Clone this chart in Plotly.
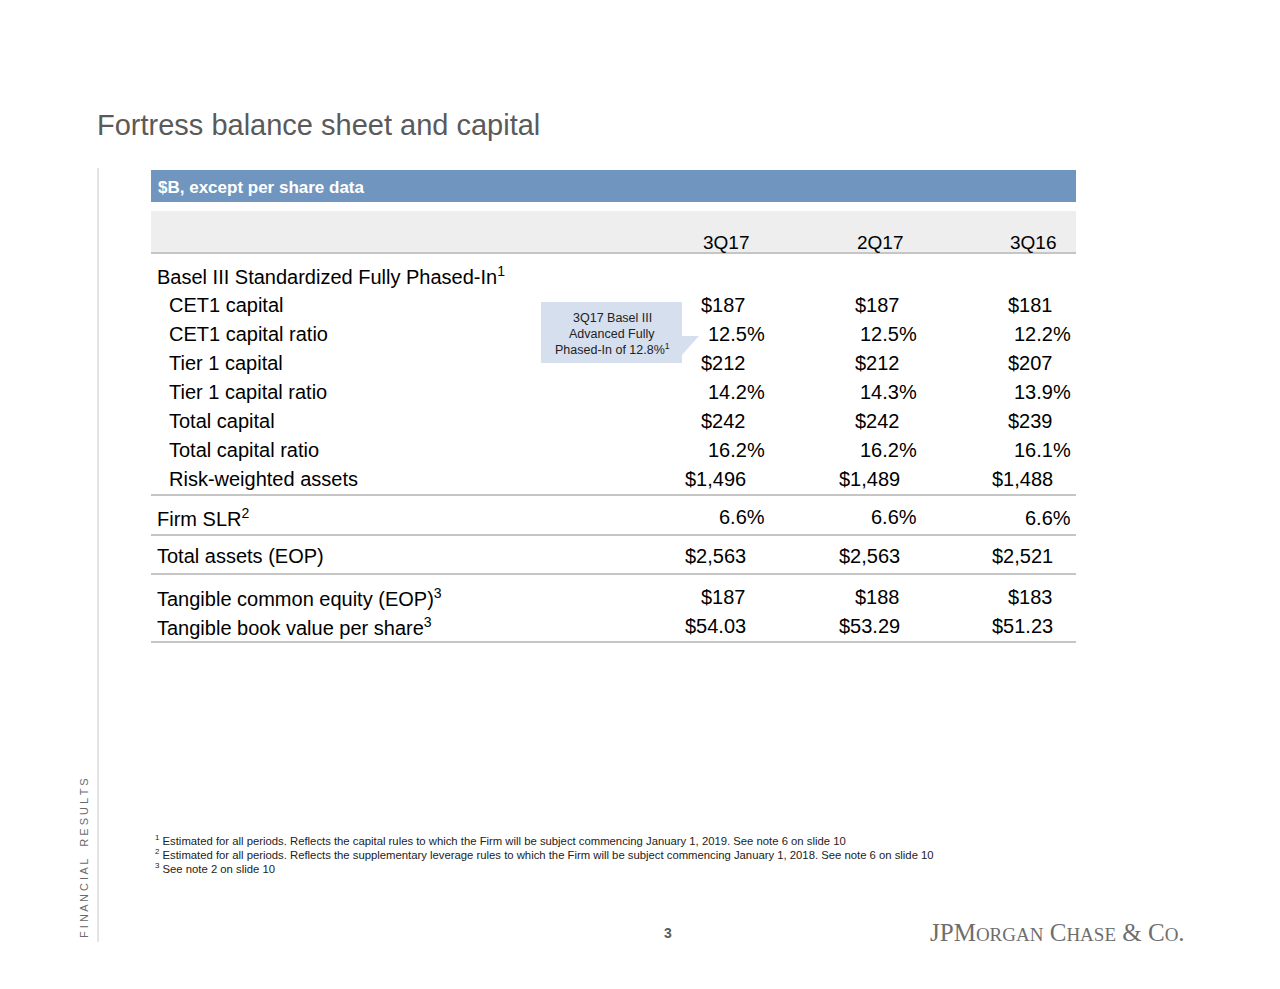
import plotly.graph_objects as go

# ---------------- data ----------------
title = "Fortress balance sheet and capital"
unit_label = "$B, except per share data"
periods = ["3Q17", "2Q17", "3Q16"]
row_labels = [
    "Basel III Standardized Fully Phased-In",
    "CET1 capital",
    "CET1 capital ratio",
    "Tier 1 capital",
    "Tier 1 capital ratio",
    "Total capital",
    "Total capital ratio",
    "Risk-weighted assets",
    "Firm SLR",
    "Total assets (EOP)",
    "Tangible common equity (EOP)",
    "Tangible book value per share",
]
row_notes = ["1", "", "", "", "", "", "", "", "2", "", "3", "3"]
row_indent = [False, True, True, True, True, True, True, True, False, False, False, False]
values_3Q17 = ["", "$187", "12.5%", "$212", "14.2%", "$242", "16.2%", "$1,496", "6.6%", "$2,563", "$187", "$54.03"]
values_2Q17 = ["", "$187", "12.5%", "$212", "14.3%", "$242", "16.2%", "$1,489", "6.6%", "$2,563", "$188", "$53.29"]
values_3Q16 = ["", "$181", "12.2%", "$207", "13.9%", "$239", "16.1%", "$1,488", "6.6%", "$2,521", "$183", "$51.23"]
callout_lines = ["3Q17 Basel III", "Advanced Fully", "Phased-In of 12.8%<sup>1</sup>"]
footnotes = [
    ("1", "Estimated for all periods. Reflects the capital rules to which the Firm will be subject commencing January 1, 2019. See note 6 on slide 10"),
    ("2", "Estimated for all periods. Reflects the supplementary leverage rules to which the Firm will be subject commencing January 1, 2018. See note 6 on slide 10"),
    ("3", "See note 2 on slide 10"),
]
side_label = "FINANCIAL RESULTS"
page_number = "3"

# ---------------- layout helpers ----------------
FONT = "Liberation Sans, Arial, Helvetica, sans-serif"
TXT = "#000000"
W, H = 1280, 989
OFF = 8  # browser body margin

fig = go.Figure()
fig.add_trace(go.Scatter(x=[OFF, W - OFF], y=[OFF, H - OFF], mode="markers", marker=dict(opacity=0),
                         hoverinfo="skip", showlegend=False))

ann = []
shapes = []

def text(x, y, t, size, color=TXT, xanchor="left", yanchor="middle", family=FONT, **kw):
    ann.append(dict(x=x, y=y, xref="x", yref="y", text=t, showarrow=False,
                    font=dict(size=size, color=color, family=family),
                    xanchor=xanchor, yanchor=yanchor, borderpad=0, borderwidth=0, **kw))

# title
text(97, 125, title, 29, color="#5a5a5a")

# vertical rule on left
shapes.append(dict(type="line", x0=98, x1=98, y0=168, y1=942, xref="x", yref="y",
                   line=dict(color="#c8c8c8", width=1)))

# header bar
shapes.append(dict(type="rect", x0=151, x1=1076, y0=170, y1=202, xref="x", yref="y",
                   fillcolor="#7096bf", line=dict(width=0), layer="below"))
text(158, 187, "<b>" + unit_label + "</b>", 17, color="#ffffff")

# grey column-header band
shapes.append(dict(type="rect", x0=151, x1=1076, y0=211, y1=252, xref="x", yref="y",
                   fillcolor="#eeeeee", line=dict(width=0), layer="below"))
shapes.append(dict(type="line", x0=151, x1=1076, y0=253, y1=253, xref="x", yref="y",
                   line=dict(color="#8c8c8c", width=1)))
col_centers = [726, 880, 1033]
for c, p in zip(col_centers, periods):
    text(c, 242, p, 19, xanchor="center")

# rows
row_y = [275, 305, 334, 363, 392, 421, 450, 479, 517, 556, 597, 626]
dollar_right = [746, 900, 1053]
pct_right = [765, 917, 1071]
cols = [values_3Q17, values_2Q17, values_3Q16]
for i, lab in enumerate(row_labels):
    y = row_y[i]
    lx = 169 if row_indent[i] else 157
    lt = lab + (f"<sup>{row_notes[i]}</sup>" if row_notes[i] else "")
    text(lx, y, lt, 20)
    for j, col in enumerate(cols):
        v = col[i]
        if not v:
            continue
        xr = pct_right[j] if v.endswith("%") else dollar_right[j]
        yy = y + (1 if (j == 2 and row_labels[i] == "Firm SLR") else 0)
        text(xr, yy, v, 20, xanchor="right")

# separators
for yl in [495, 535, 574, 642]:
    shapes.append(dict(type="line", x0=151, x1=1076, y0=yl, y1=yl, xref="x", yref="y",
                       line=dict(color="#8c8c8c", width=1)))

# callout
shapes.append(dict(type="rect", x0=541, x1=682, y0=302, y1=363, xref="x", yref="y",
                   fillcolor="#d6dfee", line=dict(width=0), layer="below"))
shapes.append(dict(type="path", path="M 681 336 L 699 336 L 681 356 Z", xref="x", yref="y",
                   fillcolor="#d6dfee", line=dict(width=0), layer="below"))
for k, cl in enumerate(callout_lines):
    text(612, 318 + k * 15.5, cl, 12.5, color="#222222", xanchor="center")

# footnotes
for k, (n, ft) in enumerate(footnotes):
    text(155, 840 + k * 14, f"<sup>{n}</sup> {ft}", 11.3, color="#222222")

# side label
text(84, 858, " ".join(side_label).replace("L   R", "L    R"), 11, color="#6a6a6a",
     xanchor="center", textangle=-90)

# page number
text(668, 933, "<b>" + page_number + "</b>", 14, color="#5a5a5a", xanchor="center")

# logo
SERIF = "Liberation Serif, Times New Roman, serif"
logo = ("JPM<span style='font-size:19px'>ORGAN</span> C<span style='font-size:19px'>HASE</span>"
        " &amp; C<span style='font-size:19px'>O</span>.")
text(1185, 932, logo, 25, color="#6e6e6e", xanchor="right", family=SERIF)

fig.update_layout(
    width=W - 2 * OFF, height=H - 2 * OFF, margin=dict(l=0, r=0, t=0, b=0),
    paper_bgcolor="#ffffff", plot_bgcolor="#ffffff",
    xaxis=dict(range=[OFF, W - OFF], visible=False, fixedrange=True),
    yaxis=dict(range=[H - OFF, OFF], visible=False, fixedrange=True),
    annotations=ann, shapes=shapes, showlegend=False,
)
fig.write_html("out.html", config={"displayModeBar": False})
